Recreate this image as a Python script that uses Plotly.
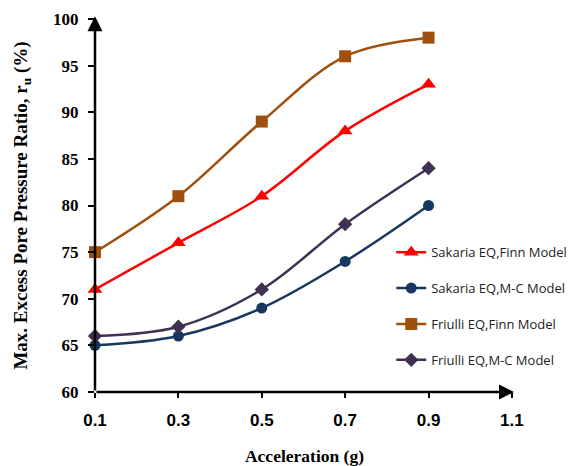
import plotly.graph_objects as go

accel = [0.1, 0.3, 0.5, 0.7, 0.9]
sakaria_finn = [71, 76, 81, 88, 93]
sakaria_mc = [65, 66, 69, 74, 80]
friulli_finn = [75, 81, 89, 96, 98]
friulli_mc = [66, 67, 71, 78, 84]

series = [
    ("Sakaria EQ,Finn Model", sakaria_finn, "#FF0000", "triangle-up", 13),
    ("Sakaria EQ,M-C Model", sakaria_mc, "#17375E", "circle", 11),
    ("Friulli EQ,Finn Model", friulli_finn, "#A0500E", "square", 12),
    ("Friulli EQ,M-C Model", friulli_mc, "#403152", "diamond", 11),
]

fig = go.Figure()
for i, (name, vals, col, sym, sz) in enumerate(series):
    fig.add_trace(go.Scatter(
        x=accel, y=vals, name=name, mode="lines+markers",
        line=dict(color=col, width=2.5, shape="spline", smoothing=1.0),
        marker=dict(symbol=sym, size=sz, color=col),
        legendgroup=f"g{i}", cliponaxis=False,
    ))

fig.update_layout(
    width=574, height=466,
    margin=dict(l=95, r=60, t=19, b=74, autoexpand=False),
    plot_bgcolor="white", paper_bgcolor="white",
    showlegend=True,
    legend=dict(x=0.707, y=0.415, xanchor="left", yanchor="top",
                font=dict(family="Open Sans", size=13, color="#222"),
                tracegroupgap=16, bgcolor="rgba(0,0,0,0)", itemwidth=30),
    xaxis=dict(range=[0.1, 1.105], tickvals=[0.1, 0.3, 0.5, 0.7, 0.9, 1.1],
               ticktext=["0.1", "0.3", "0.5", "0.7", "0.9", "1.1"],
               showgrid=False, zeroline=False, showline=False, automargin=False,
               ticks="outside", ticklen=5, tickwidth=2, tickcolor="black",
               ticklabelstandoff=8,
               tickfont=dict(family="Liberation Sans", size=17, color="black", weight="bold"),
               title=dict(text="Acceleration (g)", standoff=22,
                          font=dict(family="Liberation Serif", size=17.5, color="black", weight="bold"))),
    yaxis=dict(range=[60, 100], dtick=5, showgrid=False, zeroline=False, showline=False, automargin=False,
               ticks="outside", ticklen=6, tickwidth=2, tickcolor="black",
               ticklabelstandoff=6,
               tickfont=dict(family="Liberation Serif", size=17, color="black", weight="bold"),
               title=dict(text="Max. Excess Pore Pressure Ratio, r<sub>u</sub> (%)", standoff=20,
                          font=dict(family="Liberation Serif", size=19, color="black", weight="bold"))),
)

# axis arrows
fig.add_annotation(x=1.105, y=60, ax=0.1, ay=60, xref="x", yref="y", axref="x", ayref="y",
                   showarrow=True, arrowhead=2, arrowsize=1.2, arrowwidth=2.5, arrowcolor="black", text="")
fig.add_annotation(x=0.1, y=100.3, ax=0.1, ay=60, xref="x", yref="y", axref="x", ayref="y",
                   showarrow=True, arrowhead=2, arrowsize=1.2, arrowwidth=2.5, arrowcolor="black", text="")

fig.write_html("out.html")
